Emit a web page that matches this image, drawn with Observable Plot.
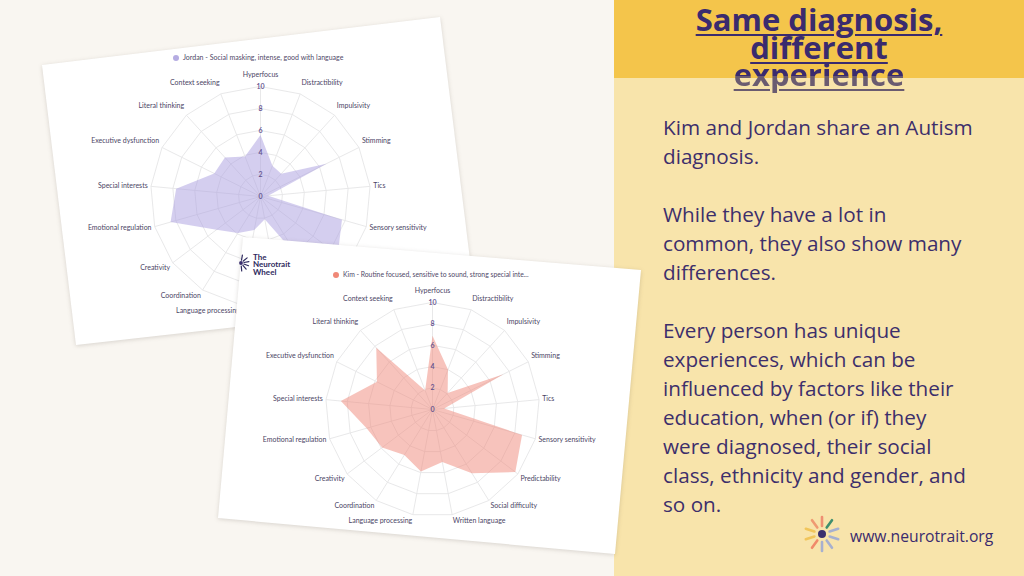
<!DOCTYPE html>
<html><head><meta charset="utf-8">
<script src="https://cdn.jsdelivr.net/npm/d3@7"></script>
<script src="https://cdn.jsdelivr.net/npm/@observablehq/plot@0.6"></script>
<style>
html,body{margin:0;padding:0;}
body{width:1024px;height:576px;position:relative;overflow:hidden;background:#f9f6f1;font-family:"Open Sans",sans-serif;}
.panel{position:absolute;left:614px;top:0;width:410px;height:576px;background:#f8e4ab;}
.band{position:absolute;left:614px;top:0;width:410px;height:78px;background:#f4c54b;}
.cardwrap{position:absolute;left:0;top:0;width:1024px;height:576px;filter:drop-shadow(0 1px 2px rgba(60,50,40,0.18));}
.cardwrap div{position:absolute;left:0;top:0;width:1024px;height:576px;background:#fff;}
.chart{position:absolute;}
.legend{position:absolute;font-family:Lato,sans-serif;font-size:7px;color:#4f4868;white-space:nowrap;line-height:10px;}
.legend span.dot{display:inline-block;width:6px;height:6px;border-radius:50%;margin-right:4px;vertical-align:-1px;}
.title{position:absolute;left:614px;top:6px;width:410px;text-align:center;font-weight:700;font-size:31px;line-height:27.5px;letter-spacing:0px;}
.title span{text-decoration:underline;text-decoration-thickness:2px;text-underline-offset:3px;}
.body{position:absolute;left:663px;top:113px;font-size:20.7px;line-height:29px;color:#3d2f6b;white-space:nowrap;}
.url{position:absolute;left:850px;top:525px;font-size:15.7px;color:#3a2b6e;}
.nw{position:absolute;left:253px;top:254px;font-family:Lato,sans-serif;font-weight:700;font-size:8px;line-height:7.3px;color:#2e2a5e;}
</style></head>
<body>
<div class="panel"></div>
<div class="band"></div>
<div class="title"><span style="color:#3a2b6e">Same diagnosis,</span><br><span style="color:#3a2b6e">different</span><br><span style="color:#5e4f6e;background:linear-gradient(to bottom,#3a2b6e 0,#3a2b6e 23px,#6a5b70 23px);-webkit-background-clip:text;background-clip:text;-webkit-text-fill-color:transparent;text-decoration-color:#6a5b70">experience</span></div>
<div class="body">Kim and Jordan share an Autism<br>diagnosis.<br><br>While they have a lot in<br>common, they also show many<br>differences.<br><br>Every person has unique<br>experiences, which can be<br>influenced by factors like their<br>education, when (or if) they<br>were diagnosed, their social<br>class, ethnicity and gender, and<br>so on.</div>
<svg style="position:absolute;left:800px;top:512px" width="44" height="44" id="sun"></svg>
<div class="url">www.neurotrait.org</div>

<div class="cardwrap"><div style="clip-path:polygon(42px 65px,440px 17px,475px 300px,76px 345px)"></div></div>
<div id="jordan" class="chart"></div>
<div class="legend" style="left:173px;top:52px"><span class="dot" style="background:#b5ace2"></span>Jordan - Social masking, intense, good with language</div>

<div class="cardwrap"><div style="clip-path:polygon(243px 237px,641px 270px,615px 554px,218px 518px)"></div></div>
<div id="kim" class="chart"></div>
<div class="legend" style="left:333px;top:269px;font-size:6.8px"><span class="dot" style="background:#f08877"></span>Kim - Routine focused, sensitive to sound, strong special inte...</div>
<svg style="position:absolute;left:236px;top:252px" width="18" height="24" id="nwicon"></svg>
<div class="nw">The<br>Neurotrait<br>Wheel</div>

<script>
const categories = ["Hyperfocus","Distractibility","Impulsivity","Stimming","Tics","Sensory sensitivity","Predictability","Social difficulty","Written language","Language processing","Coordination","Creativity","Emotional regulation","Special interests","Executive dysfunction","Literal thinking","Context seeking"];
const jordanValues = [5.6, 3.0, 2.8, 6.7, 0.7, 7.7, 8.8, 6.5, 2.1, 3.1, 3.9, 5.0, 8.5, 7.7, 4.7, 4.8, 3.9];
const kimValues = [6.9, 4.0, 2.1, 7.4, 1.1, 8.7, 9.7, 7.0, 5.0, 5.9, 5.0, 5.9, 6.4, 8.6, 5.8, 7.8, 1.9];
const tickValues = [0, 2, 4, 6, 8, 10];

function radar({values, k, W, H, fill, labelR}) {
  const n = categories.length;
  const geo = categories.map((name, i) => {
    const a = i * 2 * Math.PI / n;
    return {name, i, s: Math.sin(a), c: Math.cos(a)};
  });
  const rings = tickValues.filter(t => t > 0).flatMap(t => geo.map(g => ({ring: t, x: t * g.s, y: t * g.c})));
  const spokes = geo.map(g => ({x2: 10 * g.s, y2: 10 * g.c}));
  const shape = geo.map((g, i) => ({x: values[i] * g.s, y: values[i] * g.c}));
  const labels = geo.map(g => ({
    name: g.name,
    x: labelR * g.s, y: labelR * g.c + (g.c > 0 ? 0.55 * g.c : 0),
    anchor: Math.abs(g.s) < 0.05 ? "middle" : g.s > 0 ? "start" : "end",
    la: g.c > 0.3 ? "bottom" : g.c < -0.3 ? "top" : "middle"
  }));
  const groups = d3.groups(labels, d => d.anchor + "|" + d.la);
  return Plot.plot({
    width: W, height: H, margin: 0,
    x: {domain: [-W / 2 / k, W / 2 / k], range: [0, W], axis: null},
    y: {domain: [-H / 2 / k, H / 2 / k], range: [H, 0], axis: null},
    style: {background: "transparent", fontFamily: "Lato, sans-serif", overflow: "visible"},
    marks: [
      Plot.line(rings, {x: "x", y: "y", z: "ring", curve: "linear-closed", stroke: "#e5e5e7", strokeWidth: 0.9}),
      Plot.link(spokes, {x1: () => 0, y1: () => 0, x2: "x2", y2: "y2", stroke: "#e5e5e7", strokeWidth: 0.9}),
      Plot.line(shape, {x: "x", y: "y", curve: "linear-closed", fill, fillOpacity: 0.5, stroke: "none"}),
      Plot.text(tickValues, {x: () => 0, y: d => d, text: d => String(d), fill: "#5e4f8c", fontSize: 7, fontWeight: 600}),
      ...groups.map(([key, arr]) => Plot.text(arr, {x: "x", y: "y", text: "name", textAnchor: arr[0].anchor, lineAnchor: arr[0].la, fill: "#4b4565", fontSize: 7}))
    ]
  });
}

function place(id, chart, cx, cy, W, H) {
  const el = document.getElementById(id);
  el.style.left = (cx - W / 2) + "px";
  el.style.top = (cy - H / 2) + "px";
  el.appendChild(chart);
}

place("jordan", radar({values: jordanValues, k: 11, W: 440, H: 320, fill: "#a99ee0", labelR: 10.3}), 260, 196, 440, 320);
place("kim", radar({values: kimValues, k: 10.7, W: 440, H: 300, fill: "#f0877a", labelR: 10.3}), 432.3, 409.3, 440, 300);

// decorative sunburst logos
function sun(svgSel, cx, cy, r0, r1, dotR, angles, colors, w) {
  const svg = d3.select(svgSel);
  angles.forEach((deg, i) => {
    const a = deg * Math.PI / 180;
    svg.append("line").attr("x1", cx + r0 * Math.sin(a)).attr("y1", cy - r0 * Math.cos(a))
      .attr("x2", cx + r1 * Math.sin(a)).attr("y2", cy - r1 * Math.cos(a))
      .attr("stroke", colors[i]).attr("stroke-width", w).attr("stroke-linecap", "round");
  });
  svg.append("circle").attr("cx", cx).attr("cy", cy).attr("r", dotR).attr("fill", "#3a2f6e");
}
sun("#sun", 22, 22, 8, 17, 4, [0, 36, 72, 108, 144, 180, 216, 252, 288, 324], ["#ef8f72", "#3f8f6e", "#a7b0cf", "#a7b0cf", "#a7b0cf", "#a7b0cf", "#f08a6a", "#f1c55a", "#f1c55a", "#ef9a72"], 2.6);
sun("#nwicon", 5, 11, 3, 8, 1.9, [10, 50, 80, 110, 140, 175], ["#2e2a5e", "#2e2a5e", "#2e2a5e", "#2e2a5e", "#2e2a5e", "#2e2a5e"], 1.2);
</script>
</body></html>
